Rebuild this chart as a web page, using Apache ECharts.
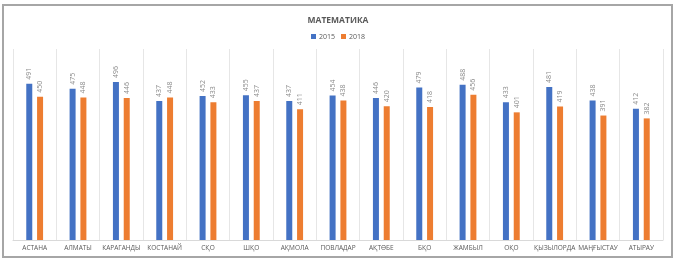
<!DOCTYPE html>
<html>
<head>
<meta charset="utf-8">
<script src="https://cdn.jsdelivr.net/npm/echarts@6/dist/echarts.min.js"></script>
<style>
  html, body { margin: 0; padding: 0; background: #fff; }
  #frame { position: absolute; left: 2px; top: 4px; width: 667px; height: 250px; border: 2px solid #a6a6a6; }
  #main { position: absolute; left: 0; top: 0; width: 676px; height: 260px; }
</style>
</head>
<body>
<div id="frame"></div>
<div id="main"></div>
<script>
// регионы
var regions = ['АСТАНА', 'АЛМАТЫ', 'КАРАГАНДЫ', 'КОСТАНАЙ', 'СҚО', 'ШҚО', 'АҚМОЛА', 'ПОВЛАДАР',
    'АҚТӨБЕ', 'БҚО', 'ЖАМБЫЛ', 'ОҚО', 'ҚЫЗЫЛОРДА', 'МАҢҒЫСТАУ', 'АТЫРАУ'];
var scores2015 = [491, 475, 496, 437, 452, 455, 437, 454, 446, 479, 488, 433, 481, 438, 412];
var scores2018 = [450, 448, 446, 448, 433, 437, 411, 438, 420, 418, 456, 401, 419, 391, 382];

var myChart = echarts.init(document.getElementById('main'));

function barSeries(name, data, color) {
    return {
        name: name,
        type: 'bar',
        data: data,
        barWidth: 6,
        barGap: '80%',
        itemStyle: { color: color },
        label: {
            show: true,
            position: 'top',
            rotate: 90,
            align: 'left',
            verticalAlign: 'middle',
            distance: 4,
            color: '#8c8c8c',
            fontSize: 7,
            fontFamily: 'Open Sans'
        }
    };
}

var option = {
    animation: false,
    title: {
        text: 'МАТЕМАТИКА',
        left: 'center',
        top: 11,
        textStyle: {
            color: '#595959',
            fontSize: 8.5,
            fontWeight: 'bold',
            fontFamily: 'Open Sans'
        }
    },
    legend: {
        top: 28,
        left: 'center',
        itemWidth: 5,
        itemHeight: 5,
        itemGap: 6,
        icon: 'rect',
        textStyle: { color: '#595959', fontSize: 7, fontFamily: 'Open Sans', padding: [0, 0, 0, -2] }
    },
    grid: {
        left: 13,
        right: 13,
        top: 49,
        bottom: 20
    },
    xAxis: {
        type: 'category',
        data: regions,
        axisTick: { show: false },
        axisLine: { lineStyle: { color: '#d9d9d9' } },
        splitLine: { show: true, lineStyle: { color: '#e6e6e6', width: 1 } },
        axisLabel: {
            interval: 0,
            margin: 5,
            color: '#595959',
            fontSize: 6.5,
            fontFamily: 'Open Sans'
        }
    },
    yAxis: {
        type: 'value',
        min: 0,
        max: 600,
        show: false,
        splitLine: { show: false }
    },
    series: [
        barSeries('2015', scores2015, '#4472c4'),
        barSeries('2018', scores2018, '#ed7d31')
    ]
};

myChart.setOption(option);
</script>
</body>
</html>
